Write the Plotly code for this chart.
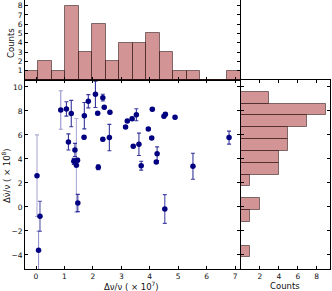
import numpy as np
import plotly.graph_objects as go

# ---- data ----
dnu = [0.035, 0.14, 0.09, 0.87, 1.07, 1.24, 1.14, 1.37, 1.33, 1.46, 1.42, 1.47,
       1.70, 1.69, 1.84, 2.09, 2.17, 2.19, 2.35, 2.40, 2.60, 2.35, 2.58,
       3.15, 3.21, 3.38, 3.53, 4.09, 3.95, 4.07, 3.42, 3.62, 4.26, 4.23, 3.70,
       4.50, 4.55, 4.89, 6.79, 5.52, 4.53]
dnudot = [2.61, -0.78, -3.61, 8.08, 8.17, 7.78, 5.42, 4.75, 3.80, 3.90, 3.47, 0.33,
          7.61, 5.81, 8.81, 9.39, 7.81, 3.31, 9.11, 8.31, 7.89, 5.64, 5.78,
          6.67, 7.17, 7.36, 7.69, 8.14, 6.50, 5.75, 5.06, 5.22, 4.44, 3.75, 3.44,
          7.56, 7.72, 7.47, 5.78, 3.39, -0.17]
dnudot_err = [3.40, 1.25, 1.60, 1.60, 0.60, 1.10, 0.67, 0.55, 0.25, 0.15, 3.90, 0.72,
              1.10, 0.15, 0.55, 1.10, 0.12, 0.20, 0.28, 0.12, 0.12, 0.12, 1.10,
              0.12, 0.12, 0.12, 0.50, 0.12, 0.12, 0.12, 0.12, 0.93, 0.57, 0.12, 0.37,
              0.12, 0.12, 0.12, 0.54, 1.08, 1.20]

top_counts = [1, 2, 1, 8, 3, 6, 2, 4, 4, 5, 3, 1, 1, 0, 0, 1]
top_edges = [-0.39, 0.08, 0.56, 1.03, 1.51, 1.98, 2.46, 2.93, 3.40, 3.88,
             4.35, 4.83, 5.30, 5.78, 6.25, 6.72, 7.20]
right_counts = [1, 0, 0, 1, 2, 0, 1, 4, 4, 5, 5, 7, 9, 3]
right_edges = [-4.19, -3.22, -2.23, -1.25, -0.26, 0.72, 1.71, 2.70, 3.69,
               4.67, 5.66, 6.65, 7.64, 8.62, 9.61]

x_ticks = [0, 1, 2, 3, 4, 5, 6, 7]
y_ticks = [-4, -2, 0, 2, 4, 6, 8, 10]
top_ticks = [1, 2, 3, 4, 5, 6, 7, 8]
right_ticks = [2, 4, 6, 8]

W, H = 332, 291
FONT = "DejaVu Sans"
fig = go.Figure()

# error bars (alpha depends on error size)
for xv, yv, ev in zip(dnu, dnudot, dnudot_err):
    a = float(np.clip(0.85 - (ev - 1.1) * 0.8, 0.35, 0.85))
    fig.add_trace(go.Scatter(
        x=[xv], y=[yv], mode="markers",
        marker=dict(size=1, opacity=0),
        error_y=dict(type="data", array=[ev], visible=True,
                     color=f"rgba(20,20,140,{a:.2f})", thickness=1.1, width=2),
        xaxis="x", yaxis="y", showlegend=False, hoverinfo="skip"))

fig.add_trace(go.Scatter(
    x=dnu, y=dnudot, mode="markers",
    marker=dict(size=5.5, color="#000080", line=dict(width=0)),
    xaxis="x", yaxis="y", showlegend=False))

bar_fill = "rgba(165,42,42,0.5)"
bar_line = dict(color="rgba(40,20,20,0.55)", width=1)

tc = [(top_edges[i] + top_edges[i + 1]) / 2 for i in range(len(top_counts))]
tw = [top_edges[i + 1] - top_edges[i] for i in range(len(top_counts))]
fig.add_trace(go.Bar(x=tc, y=top_counts, width=tw, marker=dict(color=bar_fill, line=bar_line),
                     xaxis="x2", yaxis="y2", showlegend=False))

rc = [(right_edges[i] + right_edges[i + 1]) / 2 for i in range(len(right_counts))]
rw = [right_edges[i + 1] - right_edges[i] for i in range(len(right_counts))]
fig.add_trace(go.Bar(y=rc, x=right_counts, width=rw, orientation="h",
                     marker=dict(color=bar_fill, line=bar_line),
                     xaxis="x3", yaxis="y3", showlegend=False))

dx_main = [25 / W, 240 / W]
dx_right = [241 / W, 330 / W]
dy_main = [1 - 269 / H, 1 - 80 / H]
dy_top = [1 - 80 / H, 1.0]

common = dict(showline=True, linecolor="black", linewidth=1, mirror="ticks",
              ticks="inside", ticklen=3, tickcolor="black", showgrid=False,
              zeroline=False, automargin=False,
              tickfont=dict(family=FONT, size=7.5, color="#111"))
xr = [-0.387, 7.175]
yr = [-5.17, 10.58]

tfont = dict(family=FONT, size=8.5, color="#111")
fig.update_layout(
    width=W, height=H, margin=dict(l=0, r=0, t=0, b=0),
    paper_bgcolor="white", plot_bgcolor="white", bargap=0,
    xaxis=dict(domain=dx_main, range=xr, tickvals=x_ticks, anchor="y", **common),
    yaxis=dict(domain=dy_main, range=yr, tickvals=y_ticks, anchor="x", **common),
    xaxis2=dict(domain=dx_main, range=xr, tickvals=x_ticks, showticklabels=False,
                anchor="y2", **{k: v for k, v in common.items() if k != "mirror"}),
    yaxis2=dict(domain=dy_top, range=[0, 8.6], tickvals=top_ticks, anchor="x2", **common),
    xaxis3=dict(domain=dx_right, range=[0, 9.4], tickvals=right_ticks, anchor="y3", **common),
    yaxis3=dict(domain=dy_main, range=yr, tickvals=y_ticks, showticklabels=False,
                anchor="x3", **common),
    annotations=[
        dict(text="Δν/ν ( × 10<sup>7</sup>)", x=131 / W, y=1 - 286 / H, xref="paper",
             yref="paper", showarrow=False, xanchor="center", yanchor="middle", font=tfont),
        dict(text="Δν̇/ν ( × 10<sup>8</sup>)", x=6 / W, y=1 - 176 / H, xref="paper",
             yref="paper", showarrow=False, textangle=-90, xanchor="center",
             yanchor="middle", font=tfont),
        dict(text="Counts", x=11 / W, y=1 - 43 / H, xref="paper", yref="paper",
             showarrow=False, textangle=-90, xanchor="center", yanchor="middle", font=tfont),
        dict(text="Counts", x=285 / W, y=1 - 285.5 / H, xref="paper", yref="paper",
             showarrow=False, xanchor="center", yanchor="middle", font=tfont),
    ],
)

fig.write_html("out.html", config={"displayModeBar": False})
with open("out.html", encoding="utf-8") as f:
    html = f.read()
html = html.replace("<body>", '<body style="margin:0;padding:0;overflow:hidden">', 1)
with open("out.html", "w", encoding="utf-8") as f:
    f.write(html)
